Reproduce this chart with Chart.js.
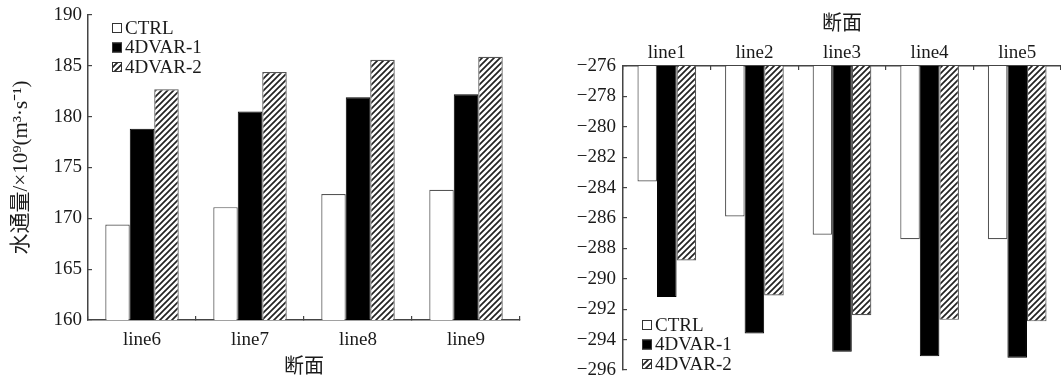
<!DOCTYPE html>
<html>
<head>
<meta charset="utf-8">
<script src="https://cdn.jsdelivr.net/npm/chart.js@4.4.1/dist/chart.umd.min.js"></script>
<style>
html, body { margin: 0; padding: 0; background: #fff; }
#wrap { position: relative; width: 1061px; height: 380px; }
canvas { position: absolute; top: 0; }
</style>
</head>
<body>
<div id="wrap">
    <canvas id="leftChart" width="540" height="380" style="left:0"></canvas>
    <canvas id="rightChart" width="521" height="380" style="left:540px"></canvas>
</div>
<script>
const seriesNames = ['CTRL', '4DVAR-1', '4DVAR-2'];

const leftSections = ['line6', 'line7', 'line8', 'line9'];
const leftCtrl = [169.4, 171.1, 172.4, 172.8];
const leftVar1 = [178.8, 180.5, 181.9, 182.2];
const leftVar2 = [182.7, 184.4, 185.6, 185.9];

const rightSections = ['line1', 'line2', 'line3', 'line4', 'line5'];
const rightCtrl = [-283.6, -285.9, -287.1, -287.4, -287.4];
const rightVar1 = [-291.2, -293.6, -294.8, -295.1, -295.2];
const rightVar2 = [-288.8, -291.1, -292.4, -292.7, -292.8];

const FAMILY = "'Liberation Serif', 'Noto Sans CJK SC', serif";
const font = { family: FAMILY, size: 19 };
const titleFont = { family: FAMILY, size: 20 };
const textColor = '#1a1a1a';
const axisColor = '#444';

// diagonal hatch for the 4DVAR-2 bars
function makeHatch() {
    const c = document.createElement('canvas');
    c.width = 6; c.height = 6;
    const g = c.getContext('2d');
    g.fillStyle = '#fff';
    g.fillRect(0, 0, 6, 6);
    g.strokeStyle = '#222';
    g.lineWidth = 1.7;
    g.beginPath();
    g.moveTo(-1, 7); g.lineTo(7, -1);
    g.moveTo(-4, 4); g.lineTo(4, -4);
    g.moveTo(2, 10); g.lineTo(10, 2);
    g.stroke();
    return g.createPattern(c, 'repeat');
}
const hatch = makeHatch();

function datasets(a, b, c) {
    return [
        { label: seriesNames[0], data: a, backgroundColor: '#fff', borderColor: '#555', borderWidth: 1.2 },
        { label: seriesNames[1], data: b, backgroundColor: '#000', borderColor: '#000', borderWidth: 1 },
        { label: seriesNames[2], data: c, backgroundColor: hatch, borderColor: '#555', borderWidth: 1.2 }
    ];
}

// small box legend drawn inside the plot
const boxLegend = {
    id: 'boxLegend',
    afterDraw(chart, args, opts) {
        const ctx = chart.ctx;
        ctx.save();
        ctx.font = '19px ' + FAMILY;
        ctx.textBaseline = 'middle';
        chart.data.datasets.forEach((ds, i) => {
            const y = opts.y + i * opts.gap;
            ctx.fillStyle = ds.backgroundColor;
            ctx.fillRect(opts.x, y - 5, 10, 10);
            ctx.strokeStyle = '#333';
            ctx.lineWidth = 1;
            ctx.strokeRect(opts.x + 0.5, y - 4.5, 9, 9);
            ctx.fillStyle = textColor;
            ctx.fillText(ds.label, opts.x + 13, y + 1);
        });
        ctx.restore();
    }
};

const minusFmt = v => String(v).replace('-', '\u2212');

new Chart(document.getElementById('leftChart'), {
    type: 'bar',
    data: { labels: leftSections, datasets: datasets(leftCtrl, leftVar1, leftVar2) },
    plugins: [boxLegend],
    options: {
        responsive: false,
        animation: false,
        layout: { padding: { top: 15, right: 20, left: 0, bottom: 0 } },
        datasets: { bar: { categoryPercentage: 0.68, barPercentage: 1 } },
        plugins: {
            legend: { display: false },
            tooltip: { enabled: false },
            boxLegend: { x: 112, y: 28, gap: 19.5 }
        },
        scales: {
            x: {
                grid: { drawOnChartArea: false, tickLength: -4, color: axisColor, lineWidth: 1.2 },
                border: { color: axisColor, width: 1.5 },
                ticks: { font, color: textColor, padding: 13 },
                title: { display: true, text: '断面', font: titleFont, color: textColor, padding: { top: 2, bottom: 0 } },
                afterFit(s) { s.height = 60; s.paddingLeft = 0; s.paddingRight = 0; }
            },
            y: {
                min: 160, max: 190,
                ticks: { stepSize: 5, font, color: textColor, padding: 10 },
                grid: { drawOnChartArea: false, tickLength: -4, color: axisColor, lineWidth: 1.2 },
                border: { color: axisColor, width: 1.5 },
                title: { display: true, text: '水通量/×10⁹(m³·s⁻¹)', font: { family: FAMILY, size: 21 }, color: textColor, padding: { top: 9, bottom: 0 } },
                afterFit(s) { s.width = 88; s.paddingTop = 0; s.paddingBottom = 0; }
            }
        }
    }
});

new Chart(document.getElementById('rightChart'), {
    type: 'bar',
    data: { labels: rightSections, datasets: datasets(rightCtrl, rightVar1, rightVar2) },
    plugins: [boxLegend],
    options: {
        responsive: false,
        animation: false,
        layout: { padding: { top: 0, right: 0, left: 0, bottom: 10 } },
        datasets: { bar: { categoryPercentage: 0.67, barPercentage: 1 } },
        plugins: {
            legend: { display: false },
            tooltip: { enabled: false },
            boxLegend: { x: 102, y: 325, gap: 19.5 }
        },
        scales: {
            x: {
                position: 'top',
                grid: { drawOnChartArea: false, tickLength: -4, color: axisColor, lineWidth: 1.2 },
                border: { color: axisColor, width: 1.5 },
                ticks: { font, color: textColor, padding: 6 },
                title: { display: true, text: '断面', font: titleFont, color: textColor, padding: { top: 13, bottom: 0 } },
                afterFit(s) { s.height = 66; s.paddingLeft = 0; s.paddingRight = 0; }
            },
            y: {
                min: -296, max: -276,
                ticks: { stepSize: 2, font, color: textColor, padding: 11, callback: minusFmt },
                grid: { drawOnChartArea: false, tickLength: -4, color: axisColor, lineWidth: 1.2 },
                border: { color: axisColor, width: 1.5 },
                afterFit(s) { s.width = 83; s.paddingTop = 0; s.paddingBottom = 0; }
            }
        }
    }
});
</script>
</body>
</html>
